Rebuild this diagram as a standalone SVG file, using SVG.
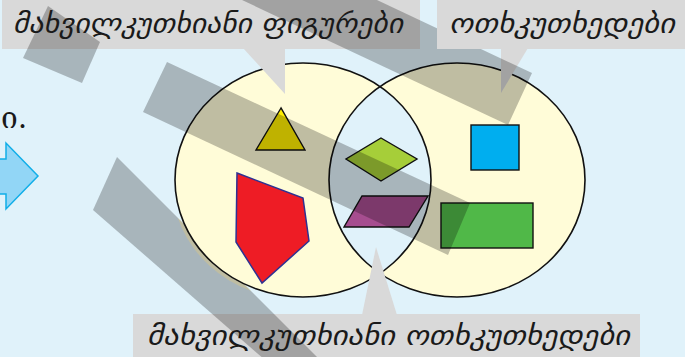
<svg xmlns="http://www.w3.org/2000/svg" width="685" height="357" viewBox="0 0 685 357">
<defs>
<style>
.box{fill:#d9d9d9}
.band{fill:#000;fill-opacity:0.25}
.lbl{font-family:"DejaVu Sans",sans-serif;font-style:italic;font-size:27px;fill:#1a1a1a}
.shp{stroke:#111;stroke-width:1.4;stroke-linejoin:miter}
</style>
<clipPath id="cd"><polygon points="117,157 320,360 265,360 93,210"/></clipPath>
</defs>
<rect width="685" height="357" fill="#e0f2fa"/>
<text x="1" y="128" font-family="DejaVu Serif,serif" font-size="30" fill="#1a1a1a">ი.</text>
<polygon points="-10,159 6,159 6,143 38,176 6,209 6,194 -10,194" fill="#92d6f6" stroke="#10aee8" stroke-width="1.5"/>
<g id="callout3-box"><rect class="box" x="133" y="314" width="507" height="43"/></g>
<ellipse cx="300" cy="183" rx="128" ry="117" fill="#fffcd8" clip-path="url(#cd)"/>
<polygon class="band" points="117,157 320,360 265,360 93,210"/>
<g id="venn">
<path d="M175,180 a128,117 0 1,0 256,0 a128,117 0 1,0 -256,0 Z M329,180 a128,117 0 1,0 256,0 a128,117 0 1,0 -256,0 Z" fill="#fffcd8" fill-rule="evenodd" stroke="none"/>
<ellipse cx="303" cy="180" rx="128" ry="117" fill="none" stroke="#111" stroke-width="1.6"/>
<ellipse cx="457" cy="180" rx="128" ry="117" fill="none" stroke="#111" stroke-width="1.6"/>
</g>
<g id="triangle"><polygon class="shp" points="281,108 256,150 305,150" fill="#ffee00"/></g>
<g id="pentagon"><polygon points="237,173 303,198 309,241 262,283 236,242" fill="#ee1c25" stroke="#2e3192" stroke-width="1.5"/></g>
<g id="rhombus"><polygon class="shp" points="381,138 417,159 381,181 346,159" fill="#a6ce39"/></g>
<g id="parallelogram"><polygon class="shp" points="362,196 428,196 409,227 344,227" fill="#a64d8f" stroke-width="1"/></g>
<g id="square"><rect class="shp" x="471" y="125" width="48" height="45" fill="#00aeef" stroke-width="1"/></g>
<g id="rectangle"><rect class="shp" x="441" y="203" width="92" height="45" fill="#50b848"/></g>
<g id="callout-pointers">
<polygon class="box" points="362,315 397,315 376,247"/>
<rect class="box" x="2" y="0" width="418" height="49"/>
<polygon class="box" points="243,48 285,48 285,94"/>
<polygon class="box" points="501,48 528,48 501,93"/>
</g>
<g id="shadows">
<polygon class="band" points="48,6 100,42 82,83 23,58"/>
<polygon class="band" points="167,62 470,203 448,255 143,112"/>
<polygon class="band" points="377,0 532,73 508,125 242,0"/>
</g>
<g id="callout2-box"><rect class="box" x="437" y="0" width="248" height="49"/></g>
<g id="labels">
<text class="lbl" x="13" y="33" textLength="390" lengthAdjust="spacingAndGlyphs">მახვილკუთხიანი ფიგურები</text>
<text class="lbl" x="449" y="33" textLength="226" lengthAdjust="spacingAndGlyphs">ოთხკუთხედები</text>
<text class="lbl" x="147" y="345" textLength="483" lengthAdjust="spacingAndGlyphs">მახვილკუთხიანი ოთხკუთხედები</text>
</g>
</svg>
